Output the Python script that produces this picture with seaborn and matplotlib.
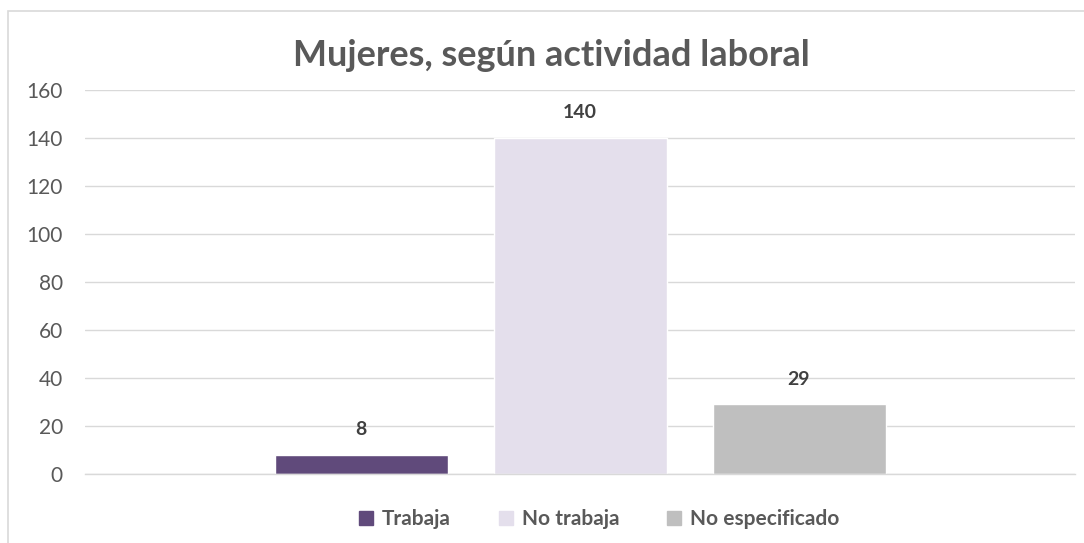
import matplotlib
matplotlib.use("Agg")
import matplotlib.pyplot as plt
import seaborn as sns
import pandas as pd
from matplotlib.patches import Rectangle
from matplotlib.lines import Line2D

series = ["Trabaja", "No trabaja", "No especificado"]
values = [8, 140, 29]
colors = ["#604A7B", "#E4DFEC", "#BFBFBF"]
yticks = [0, 20, 40, 60, 80, 100, 120, 140, 160]
title = "Mujeres, según actividad laboral"

sns.set_theme(style="white")
plt.rcParams["font.family"] = ["Lato", "DejaVu Sans"]

df = pd.DataFrame({"serie": series, "valor": values})

fig = plt.figure(figsize=(10.84, 5.43), dpi=100)
ax = fig.add_axes([85/1084, 69/543, 990/1084, 384/543])

sns.barplot(data=df, x="serie", y="valor", hue="serie", palette=colors,
            width=173/219, dodge=False, legend=False, ax=ax, saturation=1)

ax.set_xlim(-495/219 + 1, 495/219 + 1)
ax.set_ylim(0, 160)
ax.set_yticks(yticks)
ax.set_yticklabels([str(t) for t in yticks], fontsize=15, color="#595959")
ax.set_xticks([])
ax.set_xlabel("")
ax.set_ylabel("")
ax.tick_params(axis="y", length=0, pad=16)
ax.grid(axis="y", color="#D9D9D9", linewidth=1)
ax.set_axisbelow(True)
for s in ["top", "right", "left"]:
    ax.spines[s].set_visible(False)
ax.spines["bottom"].set_color("#D9D9D9")
ax.spines["bottom"].set_linewidth(1)

for i, v in enumerate(values):
    ax.annotate(str(v), (i, v), xytext=(0, 12), textcoords="offset points",
                ha="center", va="bottom", fontsize=14, fontweight="bold",
                color="#404040")

fig.text(551/1084, 1 - 55/543, title, ha="center", va="center", fontsize=26,
         fontweight="bold", color="#595959")

handles = [Line2D([0], [0], marker="s", linestyle="", markersize=10,
                  markerfacecolor=c, markeredgecolor=c) for c in colors]
leg = fig.legend(handles, series, loc="center", bbox_to_anchor=(598/1084, 1 - 519/543),
                 ncol=3, frameon=False, handletextpad=0.3, columnspacing=2.2,
                 handlelength=0.9, prop={"size": 15, "weight": "bold"})
for t in leg.get_texts():
    t.set_color("#595959")

fig.patches.append(Rectangle((8/1084, 0 - 0.02), 1.0, 1 - 11/543 + 0.02,
                             transform=fig.transFigure, fill=False,
                             edgecolor="#D9D9D9", linewidth=1.2))

fig.savefig("out.png", dpi=100)
